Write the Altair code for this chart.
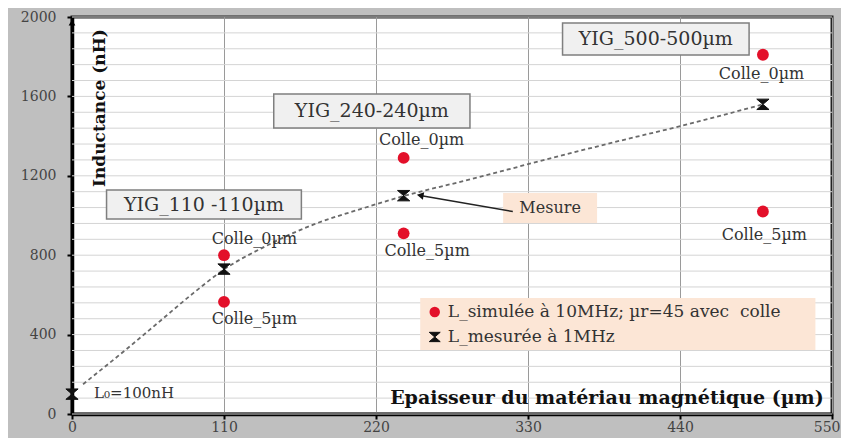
import altair as alt
import pandas as pd

# ---------------- data ----------------
thickness_sim = [110, 240, 500]
L_sim_colle0 = [800, 1290, 1810]
L_sim_colle5 = [565, 910, 1020]

thickness_meas = [0, 110, 240, 500]
L_meas = [100, 730, 1100, 1560]

# dashed trend curve
trend_x = [8, 40, 64, 88, 110, 140, 175, 210, 240, 290, 332, 391, 443, 500]
trend_y = [150, 330, 470, 610, 728, 845, 955, 1035, 1098, 1185, 1262, 1367, 1455, 1560]

x_ticks = [0, 110, 220, 330, 440, 550]
y_ticks = [0, 400, 800, 1200, 1600, 2000]
grid_y = list(range(0, 2001, 80))

# annotation texts (positions in data units)
colle_labels = ["Colle_0µm", "Colle_0µm", "Colle_0µm", "Colle_5µm", "Colle_5µm", "Colle_5µm"]
colle_x = [132, 253, 499, 132, 257, 501]
colle_y = [882, 1380, 1713, 479, 821, 902]

yig_labels = ["YIG_110 -110µm", "YIG_240-240µm", "YIG_500-500µm"]
yig_x1 = [25, 146, 355]
yig_x2 = [166, 288, 490]
yig_y1 = [982, 1441, 1809]
yig_y2 = [1128, 1612, 1970]

mesure_label = ["Mesure"]
mesure_box = {"x1": [312], "x2": [380], "y1": [962], "y2": [1113]}
arrow = {"x1": [319], "y1": [1020], "x2": [252], "y2": [1101]}

legend_labels = ["L_simulée à 10MHz; µr=45 avec\u00a0 colle", "L_mesurée à 1MHz"]
legend_box = {"x1": [252], "x2": [538], "y1": [322], "y2": [585]}
legend_mark_x = [262.5, 262.5]
legend_y = [514, 388]
legend_text_x = [272, 272]

L0_label = ["L₀=100nH"]
x_title = ["Epaisseur du matériau magnétique (µm)"]
y_title = ["Inductance (nH)"]

FONT = "DejaVu Serif"
RED = "#e3102a"
HOURGLASS = "M-1,-0.85L1,-0.85L-1,0.85L1,0.85Z"

xs = alt.Scale(domain=[0, 550], nice=False, zero=False)
ys = alt.Scale(domain=[0, 2000], nice=False, zero=False)

# ---------------- layers ----------------
grid = alt.Chart(pd.DataFrame({"y": grid_y})).mark_rule(
    color="#d4d4d4", strokeWidth=1
).encode(y=alt.Y("y:Q", scale=ys))

base_axes = alt.Chart(pd.DataFrame({"x": thickness_meas, "y": L_meas})).mark_point(opacity=0).encode(
    x=alt.X("x:Q", scale=xs, axis=alt.Axis(
        values=x_ticks, title=None, grid=True, gridColor="#9a9a9a", gridWidth=1, format="d",
        domainColor="black", domainWidth=3.5, tickColor="black", tickSize=5, tickWidth=2,
        labelFont=FONT, labelFontSize=14, labelColor="#444", labelPadding=1, labelFlush=False,
        labelAlign={"condition": {"test": "datum.value >= 550", "value": "right"}, "value": "center"},
        labelOffset={"condition": {"test": "datum.value >= 550", "value": 8}, "value": 0})),
    y=alt.Y("y:Q", scale=ys, axis=alt.Axis(
        values=y_ticks, title=None, grid=False, format="d",
        domainColor="black", domainWidth=3.5, tickColor="black", tickSize=5, tickWidth=2,
        labelFont=FONT, labelFontSize=14, labelColor="#444", labelPadding=11, labelFlush=False)),
)

yig_df = pd.DataFrame({"label": yig_labels, "x1": yig_x1, "x2": yig_x2, "y1": yig_y1, "y2": yig_y2})
yig_df["xm"] = (yig_df.x1 + yig_df.x2) / 2
yig_df["ym"] = (yig_df.y1 + yig_df.y2) / 2
yig_boxes = alt.Chart(yig_df).mark_rect(fill="#f0f0f0", stroke="#7f7f7f", strokeWidth=1.5).encode(
    x=alt.X("x1:Q", scale=xs), x2="x2:Q", y=alt.Y("y1:Q", scale=ys), y2="y2:Q")
yig_text = alt.Chart(yig_df).mark_text(font=FONT, fontSize=19, color="#333").encode(
    x=alt.X("xm:Q", scale=xs), y=alt.Y("ym:Q", scale=ys), text="label:N")

mes_df = pd.DataFrame(dict(mesure_box, label=mesure_label))
mes_df["xm"] = (mes_df.x1 + mes_df.x2) / 2
mes_df["ym"] = (mes_df.y1 + mes_df.y2) / 2
mes_box = alt.Chart(mes_df).mark_rect(fill="#fce6d6").encode(
    x=alt.X("x1:Q", scale=xs), x2="x2:Q", y=alt.Y("y1:Q", scale=ys), y2="y2:Q")
mes_text = alt.Chart(mes_df).mark_text(font=FONT, fontSize=16, color="#333").encode(
    x=alt.X("xm:Q", scale=xs), y=alt.Y("ym:Q", scale=ys), text="label:N")

arr_df = pd.DataFrame(arrow)
arr_line = alt.Chart(arr_df).mark_rule(color="#222", strokeWidth=1.6).encode(
    x=alt.X("x1:Q", scale=xs), x2="x2:Q", y=alt.Y("y1:Q", scale=ys), y2="y2:Q")
arr_head = alt.Chart(arr_df).mark_point(shape="triangle-left", filled=True, color="#111",
                                        size=60, angle=10, opacity=1).encode(
    x=alt.X("x2:Q", scale=xs), y=alt.Y("y2:Q", scale=ys))

leg_box_df = pd.DataFrame(legend_box)
leg_box = alt.Chart(leg_box_df).mark_rect(fill="#fce6d6").encode(
    x=alt.X("x1:Q", scale=xs), x2="x2:Q", y=alt.Y("y1:Q", scale=ys), y2="y2:Q")

trend = alt.Chart(pd.DataFrame({"x": trend_x, "y": trend_y})).mark_line(
    color="#6a6a6a", strokeWidth=1.8, strokeDash=[4, 3], interpolate="monotone"
).encode(x=alt.X("x:Q", scale=xs), y=alt.Y("y:Q", scale=ys))

sim_df = pd.DataFrame({"x": thickness_sim * 2, "y": L_sim_colle0 + L_sim_colle5})
sim_pts = alt.Chart(sim_df).mark_point(shape="circle", filled=True, color=RED, size=140, opacity=1).encode(
    x=alt.X("x:Q", scale=xs), y=alt.Y("y:Q", scale=ys))

meas_df = pd.DataFrame({"x": thickness_meas, "y": L_meas})
meas_pts = alt.Chart(meas_df).mark_point(shape=HOURGLASS, filled=True, color="#111", size=150,
                                          opacity=1, stroke="#111", strokeWidth=1).encode(
    x=alt.X("x:Q", scale=xs), y=alt.Y("y:Q", scale=ys))

colle_df = pd.DataFrame({"label": colle_labels, "x": colle_x, "y": colle_y})
colle_text = alt.Chart(colle_df).mark_text(font=FONT, fontSize=16, color="#333").encode(
    x=alt.X("x:Q", scale=xs), y=alt.Y("y:Q", scale=ys), text="label:N")

leg_df = pd.DataFrame({"label": legend_labels, "mx": legend_mark_x, "tx": legend_text_x, "y": legend_y})
leg_dot = alt.Chart(leg_df.iloc[[0]]).mark_point(shape="circle", filled=True, color=RED, size=110, opacity=1).encode(
    x=alt.X("mx:Q", scale=xs), y=alt.Y("y:Q", scale=ys))
leg_x = alt.Chart(leg_df.iloc[[1]]).mark_point(shape=HOURGLASS, filled=True, color="#111", size=120,
                                               opacity=1, stroke="#111", strokeWidth=1).encode(
    x=alt.X("mx:Q", scale=xs), y=alt.Y("y:Q", scale=ys))
leg_text = alt.Chart(leg_df).mark_text(font=FONT, fontSize=17, color="#333", align="left").encode(
    x=alt.X("tx:Q", scale=xs), y=alt.Y("y:Q", scale=ys), text="label:N")

l0_text = alt.Chart(pd.DataFrame({"label": L0_label, "x": [16], "y": [106]})).mark_text(
    font=FONT, fontSize=15, color="#333", align="left").encode(
    x=alt.X("x:Q", scale=xs), y=alt.Y("y:Q", scale=ys), text="label:N")

xt = alt.Chart(pd.DataFrame({"label": x_title, "x": [544], "y": [80]})).mark_text(
    font=FONT, fontSize=19, fontWeight="bold", color="#111", align="right").encode(
    x=alt.X("x:Q", scale=xs), y=alt.Y("y:Q", scale=ys), text="label:N")
yt = alt.Chart(pd.DataFrame({"label": y_title, "x": [20], "y": [1541]})).mark_text(
    font=FONT, fontSize=17, fontWeight="bold", color="#111", angle=270).encode(
    x=alt.X("x:Q", scale=xs), y=alt.Y("y:Q", scale=ys), text="label:N")

axis_arrow = alt.Chart(pd.DataFrame({"x": [0], "y": [1972]})).mark_point(
    shape="triangle-up", filled=True, color="black", size=45, opacity=1).encode(
    x=alt.X("x:Q", scale=xs), y=alt.Y("y:Q", scale=ys))

chart = alt.layer(
    grid, base_axes, yig_boxes, mes_box, leg_box, trend, arr_line, arr_head,
    sim_pts, meas_pts, yig_text, mes_text, colle_text, leg_dot, leg_x, leg_text,
    l0_text, xt, yt, axis_arrow
).properties(
    width=760, height=397,
    autosize=alt.AutoSizeParams(type="none"),
    padding={"left": 64, "top": 9, "right": 9, "bottom": 24},
    background="#bfbfbf",
).configure_view(stroke="#222", strokeWidth=3, fill="white")

chart.save("out.html", embed_options={"renderer": "svg", "actions": False})
